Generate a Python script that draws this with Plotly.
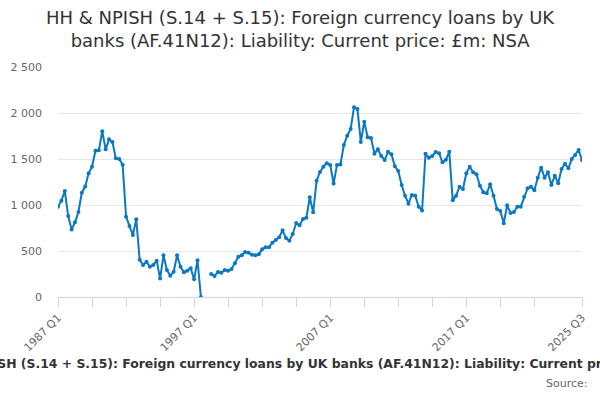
import plotly.graph_objects as go

# quarters 1987 Q1 .. 2025 Q3
quarters = [f"{y} Q{q}" for y in range(1987, 2026) for q in range(1, 5)][:155]

# values in £m (None = gap)
values = [
    980, 1047, 1152, 880, 735, 812, 924, 1134, 1200, 1344,
    1417, 1590, 1594, 1801, 1605, 1714, 1685, 1507, 1500, 1438,
    873, 772, 674, 845, 406, 348, 384, 330, 348, 395,
    200, 453, 293, 232, 275, 453, 330, 268, 286, 312,
    192, 399, 0, None, None, 250, 228, 272, 264, 293,
    286, 304, 366, 438, 453, 489, 482, 460, 453, 464,
    518, 540, 540, 590, 620, 649, 725, 641, 612, 685,
    804, 779, 848, 862, 1084, 920, 1264, 1360, 1417, 1453,
    1436, 1234, 1436, 1440, 1652, 1753, 1826, 2062, 2043, 1685,
    1906, 1736, 1728, 1558, 1605, 1533, 1489, 1580, 1551, 1420,
    1370, 1217, 1101, 1014, 1109, 1101, 982, 940, 1556, 1514,
    1533, 1576, 1563, 1464, 1493, 1580, 1051, 1101, 1199, 1174,
    1344, 1417, 1355, 1333, 1210, 1138, 1127, 1225, 1101, 957,
    935, 801, 997, 913, 924, 982, 982, 1090, 1181, 1199,
    1160, 1297, 1406, 1297, 1355, 1217, 1319, 1236, 1391, 1449,
    1399, 1500, 1543, 1598, 1489,
]

title = "HH & NPISH (S.14 + S.15): Foreign currency loans by UK<br>banks (AF.41N12): Liability: Current price: £m: NSA"
caption = "HH & NPISH (S.14 + S.15): Foreign currency loans by UK banks (AF.41N12): Liability: Current price: £m: NSA"

tick_idx = list(range(0, 141, 10)) + [154]
labelled = {0, 40, 80, 120, 154}
tickvals = [quarters[i] for i in tick_idx]
ticktext = [quarters[i] if i in labelled else "" for i in tick_idx]

fig = go.Figure()
fig.add_trace(go.Scatter(
    x=quarters, y=values, mode="lines+markers",
    line=dict(color="#0a78c2", width=2),
    marker=dict(color="#0a78c2", size=4),
    connectgaps=False,
))

fig.update_layout(
    width=600, height=400,
    margin=dict(l=58, r=18, t=67, b=103, autoexpand=False),
    paper_bgcolor="white", plot_bgcolor="white",
    font=dict(family="DejaVu Sans", color="#666666", size=11),
    separators=". ",
    showlegend=False,
)
fig.update_xaxes(
    type="category", range=[0, 154], automargin=False,
    tickmode="array", tickvals=tickvals, ticktext=ticktext,
    tickangle=-45, ticks="outside", ticklen=9, tickcolor="#ccd6eb",
    showline=True, linecolor="#ccd6eb", showgrid=False,
    tickfont=dict(size=11, color="#666666"),
)
fig.update_yaxes(
    range=[0, 2500], dtick=500, tickformat=",d", automargin=False,
    showgrid=True, gridcolor="#e6e6e6", zeroline=False,
    showline=False, ticks="", ticklabelstandoff=15,
    tickfont=dict(size=11, color="#666666"),
)

# title as annotation so its position is exact
fig.add_annotation(text=title, xref="paper", yref="paper",
                   x=0.462, xanchor="center", y=1.167, yanchor="middle",
                   showarrow=False, font=dict(size=18, color="#333333"))
fig.add_annotation(text="<b>" + caption + "</b>", xref="paper", yref="paper",
                   x=0.485, xanchor="center", y=-0.287, yanchor="middle",
                   showarrow=False, font=dict(size=12.4, color="#333333"))
fig.add_annotation(text="Source:", xref="paper", yref="paper",
                   x=1.016, xanchor="right", y=-0.374, yanchor="middle",
                   showarrow=False, font=dict(size=11, color="#666666"))

fig.write_html("out.html", config={"displayModeBar": False},
               post_script="document.body.style.margin='0';")
